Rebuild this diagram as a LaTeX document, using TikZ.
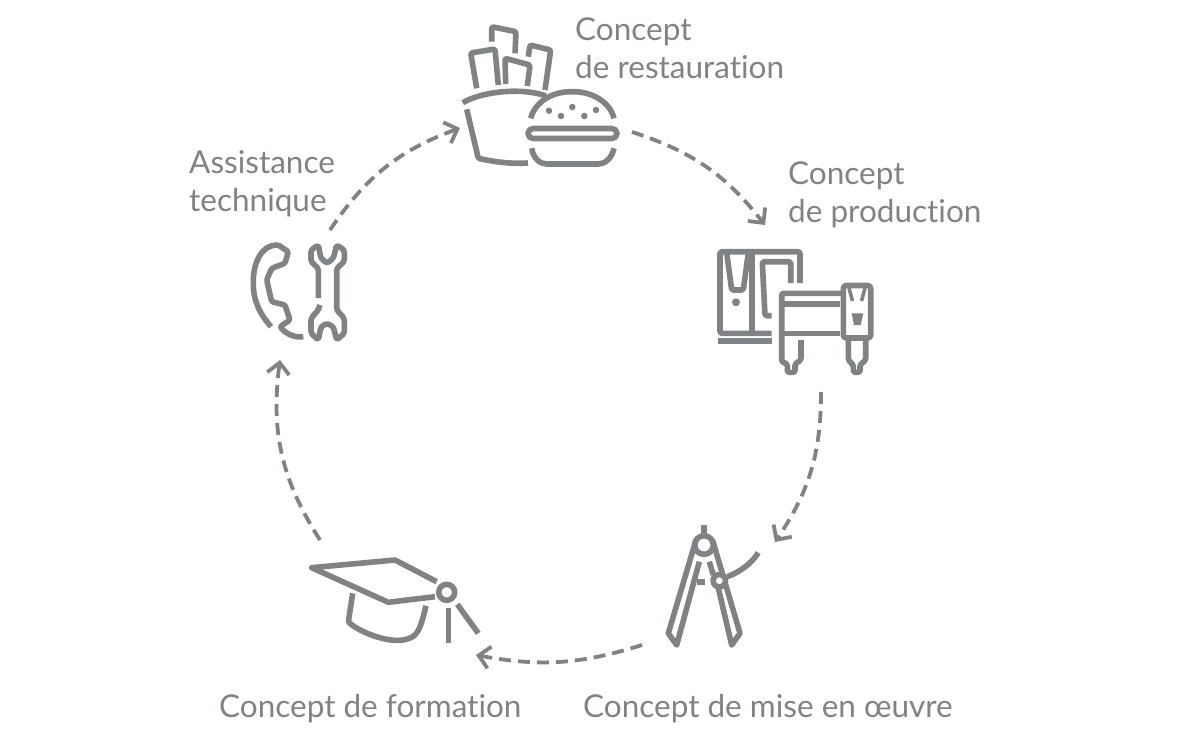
\documentclass[tikz,border=0pt]{standalone}
\usepackage{fontspec}
\setmainfont{Lato}[Ligatures=NoCommon]
\usetikzlibrary{arrows.meta}
\definecolor{icon_gray}{HTML}{7F8386}

\begin{document}
\begin{tikzpicture}[x=1pt, y=-1pt,
        label_style/.style={align=left, inner sep=0pt, text=icon_gray, font=\fontsize{31.5}{38}\selectfont},
        icon_style/.style={draw=icon_gray, line width=5.6pt, line join=round, rounded corners=1.5pt},
        thin_icon_style/.style={icon_style, line width=3.6pt},
        dot_style/.style={fill=icon_gray, circle, inner sep=0pt, minimum size=#1},
        arrow_style/.style={draw=icon_gray, line width=3.8pt, dash pattern=on 12pt off 7pt, -{Straight Barb[length=11pt, width=22pt, line width=3.8pt]}}]

        \useasboundingbox (0,0) rectangle (1200,750);

        \node [label_style, anchor=north west](l1) at (575,17) {Concept\\de restauration};

        \node [label_style, anchor=north west](l2) at (788,161) {Concept\\de production};

        \node [label_style, anchor=north west](l3) at (583,694) {Concept de mise en œuvre};

        \node [label_style, anchor=north west](l4) at (219,694) {Concept de formation};

        \node [label_style, anchor=north west](l5) at (189,150) {Assistance\\technique};

        \coordinate (a1) at (632,132);
        \coordinate (b1) at (765,225);
        \coordinate (a2) at (821,392);
        \coordinate (b2) at (775,542);
        \coordinate (a3) at (642,645);
        \coordinate (b3) at (476,655);
        \coordinate (a4) at (320,540);
        \coordinate (b4) at (280,360);
        \coordinate (a5) at (330,230);
        \coordinate (b5) at (460,128);

        \draw [arrow_style] (a1) to[bend left=17] (b1);

        \draw [arrow_style] (a2) to[bend left=17] (b2);

        \draw [arrow_style] (a3) to[bend left=14] (b3);

        \draw [arrow_style] (a4) to[bend left=20] (b4);

        \draw [arrow_style] (a5) to[bend left=18] (b5);

        % burger and fries
        \draw [icon_style] (476.7,88.3) -- (470.7,53) -- (495,49) -- (498.3,85);
        \draw [icon_style] (491.7,41.7) -- (491.7,26.7) -- (516,31.7) -- (515,53.3);
        \draw [icon_style] (505.7,84) -- (505,58.3) -- (530,65) -- (527.3,86);
        \draw [icon_style] (528.3,56.7) -- (530,45) -- (550.7,50) -- (545,90);
        \draw [icon_style] (462.7,102.7) .. controls (485,90) and (525,88) .. (546,96);
        \draw [icon_style] (466.7,109.3) -- (478.3,158.3) .. controls (495,162) and (510,164) .. (528,163);
        \draw [icon_style] (530.7,118.3) .. controls (535,102) and (552,91.7) .. (572.3,91.7) .. controls (592,91.7) and (610,102) .. (614,118.3);
        \draw [icon_style, rounded corners=5pt] (528,128.5) rectangle (617,138.5);
        \draw [icon_style] (531.7,148.3) .. controls (533,158) and (540,164) .. (548,164) -- (597,164) .. controls (605,164) and (612,158) .. (614,148.3);
        \foreach \dotx/\doty in {549/110.7, 572.3/107, 596/110, 561/116, 584.3/116}
            \node [dot_style=6.5pt] at (\dotx,\doty) {};

        % combi oven and stand
        \draw [icon_style] (771.7,333.3) -- (720,333.3) -- (720,251.7) -- (800,251.7) -- (800,283);
        \draw [icon_style] (771.7,341) -- (718,341);
        \draw [icon_style] (751.7,252) -- (751.7,333);
        \draw [icon_style] (726.7,253) -- (731.7,290) -- (743.3,290) -- (748.3,253);
        \node [dot_style=8pt] at (736,302.3) {};
        \draw [icon_style] (771.7,315.7) -- (765,315.7) -- (762.3,261.7) -- (790.7,261.7) -- (790.7,283);
        \draw [icon_style] (843,293.3) -- (781.7,293.3) -- (781.7,361.7) -- (787.3,364) -- (787.3,372.3) -- (795,372.3) -- (795,364) -- (801,360) -- (801,340);
        \draw [icon_style] (783,304) -- (840,304);
        \draw [icon_style] (783,333.3) -- (840,333.3);
        \draw [icon_style, rounded corners=3pt] (843.3,285.5) rectangle (870.7,338);
        \draw [thin_icon_style] (849,288) -- (852.5,301);
        \draw [thin_icon_style] (865,288) -- (861.5,301);
        \fill [icon_gray] (851.7,313.3) -- (863.3,313.3) -- (860.7,325) -- (854,325) -- cycle;
        \draw [icon_style] (848.3,340) -- (848.3,360) -- (853.3,365) -- (853.3,372.3) -- (860,372.3) -- (860,365) -- (865.7,360) -- (865.7,340);

        % compasses
        \draw [icon_style] (704,525) -- (704,535);
        \draw [icon_style] (704,545) circle (9.3);
        \draw [icon_style, rounded corners=0pt] (696,540) -- (668.3,633.3) -- (676.7,645) -- (699.3,561.7);
        \draw [icon_style] (696.7,581.7) -- (705,581.7);
        \draw [icon_style, rounded corners=0pt] (712.5,540) -- (740,633.3) -- (731.7,645) -- (718.3,588);
        \draw [icon_style] (709.3,561.7) -- (713.3,575);
        \draw [icon_style, fill=white] (719.3,580.7) circle (6.2);
        \draw [icon_style] (727.3,576.7) .. controls (740,572) and (752,563) .. (758.3,552.7);

        % graduation cap
        \draw [icon_style, rounded corners=0pt] (436.7,581.7) -- (395,560) -- (311.7,567.7) -- (388.3,602.3) -- (435,596.7);
        \draw [icon_style] (446.7,592.3) circle (8);
        \draw [icon_style] (352.7,593.3) -- (348.3,622) .. controls (360,632) and (385,642) .. (403,640) .. controls (418,637) and (420,630) .. (426,605.7);
        \draw [icon_style] (448.3,608.3) -- (448.3,643.3);
        \draw [icon_style] (457.3,604.3) -- (478.3,633.3);

        % phone and wrench
        \draw [icon_style] (271,326.7) .. controls (258,312) and (253.3,298) .. (253.3,283) .. controls (253.3,262) and (262,245) .. (278.3,245) -- (288.3,251.7) -- (285,263.3) -- (271.7,268.3) -- (266.7,280) -- (271.7,301.7) -- (285,305) -- (290,320) -- (280,326.7) .. controls (286,334) and (295,338) .. (303.3,336.7);
        \draw [icon_style, rounded corners=2.5pt] (318.3,298) -- (318.3,268.3) -- (311,261.7) -- (311,250) -- (318.3,245) -- (321,258.3) -- (327,263.3) -- (333.3,258.3) -- (336.7,245) -- (344.3,250) -- (344.3,261.7) -- (336.7,268.3) -- (336.7,310) -- (344.3,318.3) -- (344.3,333.3) -- (336.7,340) -- (333.3,326.7) -- (327,323.3) -- (321,326.7) -- (318.3,340) -- (311,333.3) -- (311,318.3) -- (318.3,310) -- (320,305);

        \end{tikzpicture}
\end{document}
